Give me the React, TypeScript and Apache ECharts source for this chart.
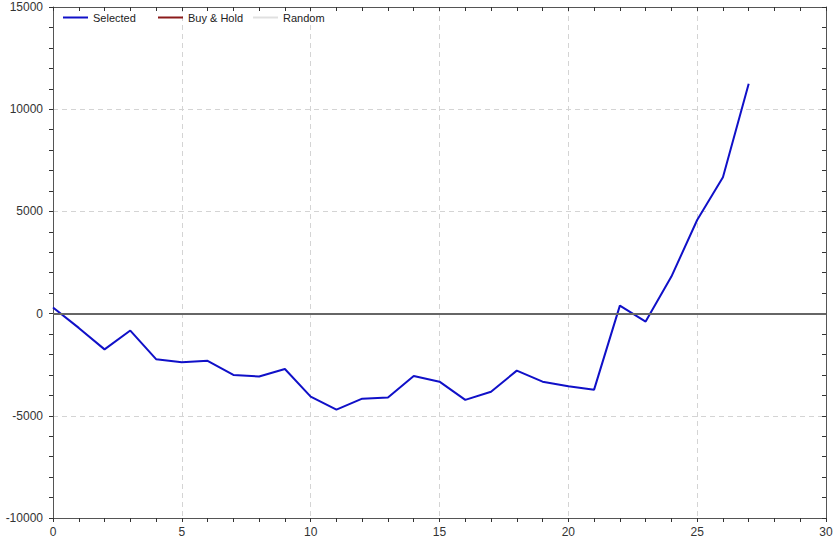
import React, { useEffect, useRef } from "react";
import * as echarts from "echarts";

const periods: number[] = Array.from({ length: 28 }, (_, i) => i);
const selected: number[] = [
  300, -700, -1750, -830, -2230, -2380, -2310, -3000, -3080, -2710,
  -4060, -4700, -4160, -4110, -3050, -3330, -4220, -3820, -2790, -3330,
  -3550, -3720, 390, -390, 1810, 4580, 6670, 11240,
];
const buyHold: number[] = [];
const random: number[] = [];
const seriesNames = ["Selected", "Buy & Hold", "Random"];

const FONT = "Liberation Sans, Arial, sans-serif";

export default function App() {
  const ref = useRef<HTMLDivElement>(null);
  useEffect(() => {
    if (!ref.current) return;
    const chart = echarts.init(ref.current, null, { renderer: "svg" });
    const axisLine = { lineStyle: { color: "#555", width: 1 } };
    const tick = { show: true, length: 4, lineStyle: { color: "#333", width: 1 } };
    const minor = { show: true, splitNumber: 5, length: 4, lineStyle: { color: "#333", width: 1 } };
    const split = { show: true, lineStyle: { color: "#d4d4d4", type: [5, 4] } };
    const legendOf = (name: string, left: number) => ({
      left,
      top: 7,
      itemWidth: 25,
      itemHeight: 2,
      icon: "rect",
      textStyle: { fontSize: 11, color: "#222", fontFamily: FONT },
      data: [name],
    });
    chart.setOption({
      animation: false,
      backgroundColor: "#fff",
      textStyle: { fontFamily: FONT },
      grid: { left: 53, right: 13, top: 7, bottom: 25, containLabel: false },
      legend: [legendOf(seriesNames[0], 58), legendOf(seriesNames[1], 153), legendOf(seriesNames[2], 248)],
      xAxis: [
        {
          type: "value",
          min: 0,
          max: 30,
          interval: 5,
          axisLine: { show: true, onZero: false, ...axisLine },
          axisTick: tick,
          minorTick: minor,
          axisLabel: { fontSize: 12, color: "#333", margin: 8, fontFamily: FONT },
          splitLine: split,
        },
        {
          type: "value",
          position: "top",
          min: 0,
          max: 30,
          interval: 5,
          axisLine: { show: true, onZero: false, ...axisLine },
          axisTick: { ...tick, inside: true },
          minorTick: minor,
          axisLabel: { show: false },
          splitLine: { show: false },
        },
      ],
      yAxis: [
        {
          type: "value",
          min: -10000,
          max: 15000,
          interval: 5000,
          axisLine: { show: true, onZero: false, ...axisLine },
          axisTick: tick,
          minorTick: minor,
          axisLabel: {
            fontSize: 12,
            color: "#333",
            margin: 10,
            fontFamily: FONT,
            formatter: (v: number) => String(v),
          },
          splitLine: split,
        },
        {
          type: "value",
          position: "right",
          min: -10000,
          max: 15000,
          interval: 5000,
          axisLine: { show: true, onZero: false, ...axisLine },
          axisTick: { ...tick, inside: true },
          minorTick: minor,
          axisLabel: { show: false },
          splitLine: { show: false },
        },
      ],
      series: [
        {
          name: seriesNames[0],
          type: "line",
          data: periods.map((p, i) => [p, selected[i]]),
          showSymbol: false,
          symbol: "none",
          lineStyle: { color: "#1010c8", width: 2 },
          itemStyle: { color: "#1010c8" },
          markLine: {
            silent: true,
            symbol: "none",
            label: { show: false },
            lineStyle: { color: "#666", width: 2, type: "solid" },
            data: [{ yAxis: 0 }],
          },
          z: 3,
        },
        {
          name: seriesNames[1],
          type: "line",
          data: buyHold,
          showSymbol: false,
          lineStyle: { color: "#8b1a1a", width: 2 },
          itemStyle: { color: "#8b1a1a" },
        },
        {
          name: seriesNames[2],
          type: "line",
          data: random,
          showSymbol: false,
          lineStyle: { color: "#e0e0e0", width: 2 },
          itemStyle: { color: "#e0e0e0" },
        },
      ],
    });
    return () => chart.dispose();
  }, []);
  return <div ref={ref} style={{ width: 839, height: 543, position: "fixed", left: 0, top: 0 }} />;
}
